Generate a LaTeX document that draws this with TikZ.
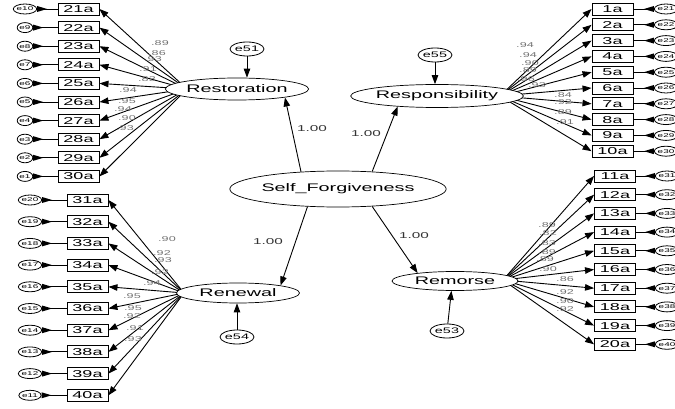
\documentclass[tikz,border=0pt]{standalone}
\usepackage{fontspec}
\setmainfont[FakeStretch=1.8]{Liberation Sans}
\usetikzlibrary{shapes.geometric,arrows.meta}
\pgfdeclarelayer{bg}
\pgfsetlayers{bg,main}
\begin{document}
\begin{tikzpicture}[x=1pt,y=-1pt,
  ind/.style={draw, line width=0.9pt, minimum width=41pt, minimum height=12pt, inner sep=0pt, fill=white, font=\fontsize{10}{10}\selectfont},
  lat/.style={ellipse, draw, line width=0.7pt, inner sep=0pt, fill=white, font=\fontsize{11}{11}\selectfont},
  ie/.style={ellipse, draw, line width=0.8pt, minimum width=15pt, minimum height=10pt, inner sep=0pt, fill=white, font=\fontsize{5.5}{5.5}\selectfont},
  le/.style={ellipse, draw, line width=0.8pt, minimum width=30pt, minimum height=14pt, inner sep=0pt, fill=white, font=\fontsize{8}{8}\selectfont},
  ld/.style={font=\fontsize{7}{7}\selectfont, text=black!55, inner sep=0pt},
  pl/.style={font=\fontsize{8.5}{8.5}\selectfont, text=black!80, inner sep=0pt},
  arr/.style={line width=0.9pt, -{Triangle[length=9pt,width=6.5pt]}},
  eln/.style={line width=0.9pt}
]
\useasboundingbox (0,0) rectangle (675,409);

% latent variables
\node[lat, minimum width=200pt, minimum height=36pt] (SF) at (338,189) {Self\_Forgiveness};
\node[lat, minimum width=123pt, minimum height=22pt] (Rest) at (237,89) {Restoration};
\node[lat, minimum width=150pt, minimum height=23pt] (Resp) at (437,96) {Responsibility};
\node[lat, minimum width=123pt, minimum height=20pt] (Renew) at (238,293) {Renewal};
\node[lat, minimum width=126pt, minimum height=19pt] (Rem) at (455,281) {Remorse};

\coordinate (rC) at (187,89);
\coordinate (pC) at (500,96);
\coordinate (nC) at (184,293);
\coordinate (mC) at (503,280);

% indicators: top left
\foreach \n/\e [count=\k from 0] in {21/10,22/9,23/8,24/7,25/6,26/5,27/4,28/3,29/2,30/1} {
  \node[ind] (i\n) at (78.5,{9+18.6*\k}) {\n a};
  \node[ie] (e\e) at (25,{9+18.6*\k}) {e\e};
  \draw[eln] (e\e.east) -- (i\n.west);
  \fill (e\e.east) ++(0,-3) -- ++(10,3) -- ++(-10,3) -- cycle;
  \begin{pgfonlayer}{bg}\draw[arr] (rC) -- (i\n.east);\end{pgfonlayer}
}
% bottom left
\foreach \n/\e [count=\k from 0] in {31/20,32/19,33/18,34/17,35/16,36/15,37/14,38/13,39/12,40/11} {
  \node[ind] (i\n) at (87.5,{200+21.7*\k}) {\n a};
  \node[ie] (e\e) at (30,{200+21.7*\k}) {e\e};
  \draw[eln] (e\e.east) -- (i\n.west);
  \fill (e\e.east) ++(0,-3) -- ++(10,3) -- ++(-10,3) -- cycle;
  \begin{pgfonlayer}{bg}\draw[arr] (nC) -- (i\n.east);\end{pgfonlayer}
}
% top right
\foreach \n/\e [count=\k from 0] in {1/21,2/22,3/23,4/24,5/25,6/26,7/27,8/28,9/29,10/30} {
  \node[ind] (i\n) at (612.5,{9+15.8*\k}) {\n a};
  \node[ie] (e\e) at (666,{9+15.8*\k}) {e\e};
  \draw[eln] (e\e.west) -- (i\n.east);
  \fill (e\e.west) ++(0,-3) -- ++(-10,3) -- ++(10,3) -- cycle;
  \begin{pgfonlayer}{bg}\draw[arr] (pC) -- (i\n.west);\end{pgfonlayer}
}
% bottom right
\foreach \n/\e [count=\k from 0] in {11/31,12/32,13/33,14/34,15/35,16/36,17/37,18/38,19/39,20/40} {
  \node[ind] (i\n) at (615,{176+18.7*\k}) {\n a};
  \node[ie] (e\e) at (667,{176+18.7*\k}) {e\e};
  \draw[eln] (e\e.west) -- (i\n.east);
  \fill (e\e.west) ++(0,-3) -- ++(-10,3) -- ++(10,3) -- cycle;
  \begin{pgfonlayer}{bg}\draw[arr] (mC) -- (i\n.west);\end{pgfonlayer}
}

% structural paths
\draw[arr] (SF.155) -- (Rest.-10);
\draw[arr] (SF.27) -- (Resp.195);
\draw[arr] (SF.210) -- (Renew.10);
\draw[arr] (SF.-27) -- (Rem.168);
\node[pl] (p1) at (312,129) {1.00};
\node[pl] (p2) at (366,134) {1.00};
\node[pl] (p3) at (268,242) {1.00};
\node[pl] (p4) at (414,236) {1.00};

% latent disturbances
\node[le] (e51) at (247,49) {e51};
\node[le] (e55) at (435,55) {e55};
\node[le] (e54) at (237,337) {e54};
\node[le] (e53) at (447,331) {e53};
\draw[arr] (e51) -- (e51 |- Rest.north);
\draw[arr] (e55) -- (e55 |- Resp.north);
\draw[arr] (e54) -- (e54 |- Renew.south);
\draw[arr] (e53) -- (Rem.250);

% loadings
\foreach \v/\x/\y [count=\k] in {.89/160/43,.86/157/53,.93/153/59,.91/148/69,.83/147/79,.94/128/90,.95/127/101,.94/123/109,.90/127/118,.93/125/128} {
  \node[ld] (lr\k) at (\x,\y) {\v};
}
\foreach \v/\x/\y [count=\k] in {.90/167/239,.92/162/253,.93/163/260,.92/160/272,.94/152/283,.95/132/296,.95/133/308,.92/132/316,.91/135/328,.93/133/339} {
  \node[ld] (ln\k) at (\x,\y) {\v};
}
\foreach \v/\x/\y [count=\k] in {.94/525/45,.94/528/55,.90/530/63,.89/528/70,.96/526/79,.93/537/85,.84/563/95,.92/563/102,.89/563/112,.91/565/122} {
  \node[ld] (lp\k) at (\x,\y) {\v};
}
\foreach \v/\x/\y [count=\k] in {.89/547/225,.82/548/233,.83/547/243,.89/547/252,.89/545/259,.90/548/269,.86/565/279,.92/565/292,.90/565/301,.92/565/309} {
  \node[ld] (lm\k) at (\x,\y) {\v};
}
\end{tikzpicture}
\end{document}
